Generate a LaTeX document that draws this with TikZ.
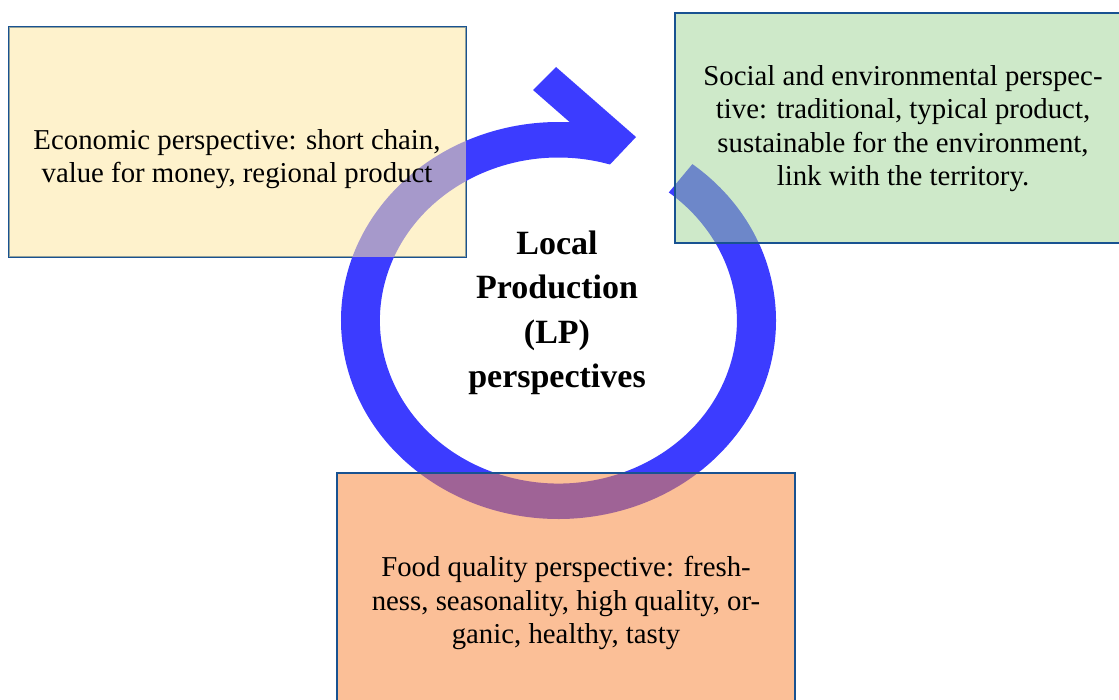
\documentclass[tikz,border=0pt]{standalone}
\usepackage{fontspec}
\setmainfont{Liberation Serif}
\usetikzlibrary{calc}
\definecolor{ringblue}{RGB}{60,60,255}
\definecolor{bordblue}{RGB}{24,82,145}
\definecolor{yelfill}{RGB}{254,231,162}
\definecolor{grnfill}{RGB}{158,211,148}
\definecolor{orgfill}{RGB}{247,134,58}
\begin{document}
\begin{tikzpicture}[x=0.5pt,y=-0.5pt,
  boxline/.style={draw=bordblue,line width=1.1pt},
  boxtext/.style={align=center,font=\fontsize{14.4}{16.7}\selectfont,inner sep=0pt},
  centertext/.style={align=center,font=\fontsize{17}{22.2}\selectfont\bfseries,inner sep=0pt}]
\useasboundingbox (0,0) rectangle (1119,700);
\clip (0,0) rectangle (1119,700);
% yellow box border (under the ring)
\draw[boxline] (9,27) rectangle (466,257);
% circular arrow
\coordinate (c) at (558.5,320.5);
\coordinate (notchA) at (533,90);
\coordinate (notchB) at (556,67);
\coordinate (tip) at (636,137);
\coordinate (heel) at (610,164.5);
\fill[ringblue] ($(c)+(-52:217.5 and 198.5)$)
  arc[start angle=-52, end angle=273, x radius=217.5, y radius=198.5]
  -- (notchA) -- (notchB) -- (tip) -- (heel)
  arc[start angle=286.8, end angle=-51.8, x radius=178.5, y radius=163]
  -- cycle;
% yellow fill over the ring
\fill[yelfill,fill opacity=0.55] (9,27) rectangle (466,257);
% green and orange boxes
\path[boxline,fill=grnfill,fill opacity=0.5] (675,13) rectangle (1130,243);
\path[boxline,fill=orgfill,fill opacity=0.53] (337,473) rectangle (795,712);
% texts
\node[boxtext] (econ) at (237,159) {Economic perspective: short chain,\\value for money, regional product};
\node[boxtext] (soc) at (903,128.5) {Social and environmental perspec-\\tive: traditional, typical product,\\sustainable for the environment,\\link with the territory.};
\node[boxtext] (food) at (566,603) {Food quality perspective: fresh-\\ness, seasonality, high quality, or-\\ganic, healthy, tasty};
\node[centertext] (lp) at (557,313) {Local\\Production\\(LP)\\perspectives};
\end{tikzpicture}
\end{document}
